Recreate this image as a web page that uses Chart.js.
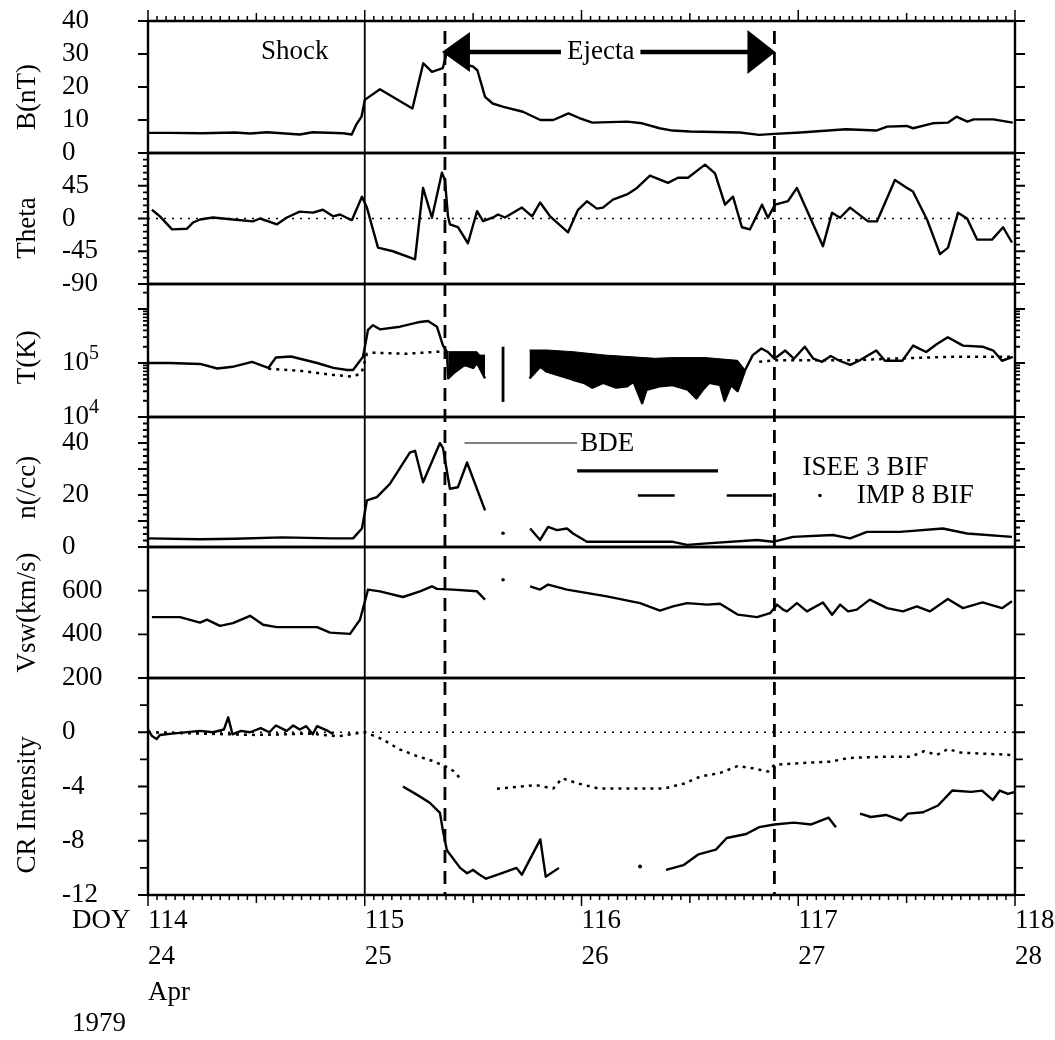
<!DOCTYPE html>
<html><head><meta charset="utf-8">
<script src="https://cdn.jsdelivr.net/npm/chart.js@4.4.1/dist/chart.umd.min.js"></script>
<style>html,body{margin:0;padding:0;background:#fff;}canvas{display:block;}</style>
</head><body>
<canvas id="c" width="1055" height="1040"></canvas>
<script>
// ---------- data (x = day of year 1979, fractional) ----------
const doyTicks = [114, 115, 116, 117, 118];
const dateTicks = ['24', '25', '26', '27', '28'];
const monthLabel = 'Apr';
const yearLabel = '1979';
const shockDoy = 115.0;
const ejectaStartDoy = 115.37;
const ejectaEndDoy = 116.89;

const bTickLabels = {0:'0', 10:'10', 20:'20', 30:'30', 40:'40'};
const thetaTickLabels = {45:'45', 0:'0', '-45':'-45', '-90':'-90'};
const tTickExponents = {10000:'4', 100000:'5'};
const nTickLabels = {0:'0', 20:'20', 40:'40'};
const vTickLabels = {200:'200', 400:'400', 600:'600'};
const crTickLabels = {0:'0', '-4':'-4', '-8':'-8', '-12':'-12'};

const bField = [[114.00,6.1],[114.10,6.1],[114.25,6.0],[114.40,6.2],[114.47,5.9],[114.55,6.3],[114.70,5.6],[114.76,6.3],[114.90,6.0],[114.94,5.6],[114.96,8.5],[114.985,11],[115.00,16.1],[115.07,19.3],[115.22,13.5],[115.27,27.2],[115.31,24.6],[115.36,25.7],[115.38,31.0],[115.40,29.2],[115.45,27.0],[115.50,26.2],[115.52,25.0],[115.555,17.0],[115.59,15.0],[115.64,14.0],[115.73,12.5],[115.81,10.0],[115.87,10.0],[115.94,12.0],[115.99,10.6],[116.05,9.2],[116.21,9.5],[116.28,9.0],[116.36,7.5],[116.42,6.8],[116.50,6.5],[116.73,6.2],[116.82,5.5],[116.89,5.8],[117.01,6.2],[117.22,7.2],[117.36,6.8],[117.41,8.0],[117.50,8.2],[117.53,7.5],[117.62,9.0],[117.69,9.2],[117.73,11.0],[117.78,9.5],[117.81,10.2],[117.90,10.2],[117.99,9.2]];

const theta = [[114.018,12],[114.055,3],[114.111,-15],[114.18,-14],[114.208,-5.5],[114.24,-1.4],[114.30,1.4],[114.392,-1.4],[114.484,-4],[114.517,0],[114.595,-8],[114.641,1.4],[114.70,9.5],[114.761,8],[114.807,12],[114.854,3],[114.886,5.5],[114.932,-1.4],[114.941,-2],[114.987,30],[115.01,15],[115.061,-40],[115.13,-45],[115.232,-56],[115.269,42],[115.31,1],[115.356,63],[115.37,53],[115.384,3],[115.393,-8],[115.43,-12],[115.476,-34],[115.518,10],[115.546,-3.6],[115.592,1.4],[115.615,5.5],[115.647,1.4],[115.725,15],[115.772,3],[115.809,22],[115.855,3],[115.938,-19],[115.984,12],[116.025,23.6],[116.071,13.6],[116.099,15],[116.145,26],[116.21,33],[116.256,42],[116.316,59],[116.399,49],[116.445,56],[116.491,56],[116.57,74],[116.616,62],[116.662,19],[116.699,30],[116.74,-12],[116.777,-15],[116.833,19],[116.86,1],[116.893,19],[116.953,24],[116.994,42],[117.114,-38],[117.156,8],[117.193,1],[117.239,15],[117.322,-4],[117.363,-4],[117.446,53],[117.502,42],[117.529,37],[117.594,-1.4],[117.654,-49],[117.691,-40],[117.737,8],[117.779,0],[117.825,-29],[117.894,-29],[117.945,-12],[117.986,-33]];

const tObs = [[114.00,1.0e5],[114.10,1.0e5],[114.24,9.6e4],[114.32,7.9e4],[114.39,8.5e4],[114.48,1.05e5],[114.555,8.1e4],[114.59,1.26e5],[114.66,1.32e5],[114.78,1.0e5],[114.855,8.1e4],[114.92,7.4e4],[114.946,7.4e4],[114.992,1.3e5],[115.015,4.1e5],[115.038,5.0e5],[115.07,4.2e5],[115.163,4.7e5],[115.255,5.75e5],[115.292,6.0e5],[115.333,4.7e5],[115.361,2.1e5],[115.379,1.6e5],[115.385,5.2e4],[115.41,6.5e4],[115.46,9.2e4],[115.50,8.1e4],[115.518,1.0e5],[115.555,5.2e4],[115.56,null],[115.76,5.2e4],[115.81,8.5e4],[115.84,6.9e4],[115.96,4.9e4],[116.01,4.3e4],[116.05,3.5e4],[116.10,4.3e4],[116.16,3.5e4],[116.21,3.7e4],[116.24,4.5e4],[116.28,1.8e4],[116.30,3.2e4],[116.36,3.7e4],[116.42,3.9e4],[116.49,3.2e4],[116.53,2.2e4],[116.56,3.2e4],[116.59,4.3e4],[116.64,3.9e4],[116.66,2.0e4],[116.69,3.9e4],[116.72,3.0e4],[116.74,5.0e4],[116.755,7.4e4],[116.79,1.4e5],[116.83,1.86e5],[116.86,1.6e5],[116.89,1.2e5],[116.94,1.7e5],[116.98,1.2e5],[117.03,2.0e5],[117.07,1.2e5],[117.11,1.05e5],[117.15,1.35e5],[117.19,1.1e5],[117.24,9.2e4],[117.28,1.1e5],[117.36,1.7e5],[117.40,1.1e5],[117.48,1.1e5],[117.53,2.1e5],[117.59,1.6e5],[117.64,2.25e5],[117.69,3.0e5],[117.76,2.1e5],[117.85,2.0e5],[117.90,1.7e5],[117.94,1.1e5],[117.99,1.3e5]];

const tExp = [[114.555,7.8e4],[114.70,7.2e4],[114.855,6.0e4],[114.946,5.6e4],[114.985,6.5e4],[115.01,1.48e5],[115.038,1.55e5],[115.19,1.48e5],[115.34,1.62e5],[115.379,1.62e5],[115.38,null],[116.82,1.05e5],[116.89,1.12e5],[117.00,1.12e5],[117.24,1.12e5],[117.47,1.22e5],[117.69,1.3e5],[117.99,1.3e5]];

const tEjectaTop = [[115.385,1.62e5],[115.518,1.62e5],[115.53,1.4e5],[115.555,1.4e5],[115.56,null],[115.76,1.74e5],[115.84,1.74e5],[115.96,1.62e5],[116.11,1.4e5],[116.34,1.22e5],[116.42,1.26e5],[116.57,1.26e5],[116.72,1.12e5],[116.755,7.4e4]];

const tBar = [[115.638,1.9e4],[115.638,2.0e5]];

const density = [[114.00,3.3],[114.24,3.0],[114.40,3.2],[114.62,3.7],[114.85,3.3],[114.946,3.3],[114.987,7.1],[115.01,17.9],[115.056,19.2],[115.116,24.3],[115.208,36.3],[115.232,37.0],[115.269,24.9],[115.347,40.0],[115.361,38.0],[115.393,22.4],[115.43,23.0],[115.472,32.5],[115.555,14.1],[115.56,null],[115.763,7.1],[115.809,2.7],[115.846,7.7],[115.887,6.5],[115.933,7.1],[115.961,5.2],[116.025,2.0],[116.117,2.0],[116.422,2.0],[116.487,0.8],[116.579,1.4],[116.81,2.7],[116.884,2.0],[116.976,3.9],[117.16,4.6],[117.239,3.3],[117.317,5.8],[117.469,5.8],[117.667,7.1],[117.779,5.2],[117.986,3.9]];
const densityDot = [[115.638,5.3]];

const bdeInterval = [[115.46, 115.98]];
const iseeBifIntervals = [[115.98, 116.63]];
const imp8BifIntervals = [[116.26, 116.43], [116.67, 116.88]];

const vsw = [[114.018,479],[114.148,479],[114.24,454],[114.272,467],[114.332,439],[114.392,451],[114.471,485],[114.531,444],[114.595,433],[114.78,433],[114.84,408],[114.932,402],[114.978,467],[115.015,605],[115.07,597],[115.176,571],[115.255,597],[115.31,620],[115.333,608],[115.407,605],[115.518,597],[115.555,559],[115.56,null],[115.763,620],[115.809,605],[115.846,628],[115.933,605],[116.117,574],[116.27,543],[116.362,509],[116.422,528],[116.487,543],[116.579,536],[116.639,540],[116.722,490],[116.81,479],[116.87,497],[116.902,536],[116.93,513],[116.948,505],[116.994,543],[117.04,505],[117.114,546],[117.156,490],[117.193,536],[117.23,505],[117.27,513],[117.33,559],[117.41,520],[117.483,505],[117.547,528],[117.607,505],[117.69,562],[117.76,520],[117.85,546],[117.94,520],[117.986,551]];
const vswDot = [[115.638,650]];

const crSolid = [[114.00,0.2],[114.02,-0.3],[114.04,-0.5],[114.055,-0.2],[114.11,-0.1],[114.24,0.1],[114.30,0.0],[114.35,0.2],[114.37,1.1],[114.39,-0.15],[114.43,0.1],[114.47,0.0],[114.52,0.3],[114.56,0.0],[114.59,0.5],[114.64,0.1],[114.67,0.5],[114.70,0.2],[114.73,0.45],[114.76,-0.15],[114.78,0.45],[114.83,0.1],[114.855,-0.15],[114.86,null],[115.176,-4.0],[115.24,-4.6],[115.30,-5.2],[115.347,-5.95],[115.36,-7.2],[115.379,-8.7],[115.44,-10.0],[115.472,-10.4],[115.50,-10.15],[115.53,-10.5],[115.56,-10.8],[115.63,-10.4],[115.70,-10.0],[115.725,-10.5],[115.81,-7.9],[115.835,-10.65],[115.896,-10.0],[115.90,null],[116.39,-10.15],[116.47,-9.8],[116.54,-9.0],[116.62,-8.65],[116.67,-7.8],[116.76,-7.5],[116.82,-7.0],[116.89,-6.8],[116.98,-6.66],[117.06,-6.8],[117.14,-6.3],[117.174,-7.0],[117.18,null],[117.285,-6.0],[117.335,-6.25],[117.405,-6.1],[117.474,-6.5],[117.506,-6.0],[117.576,-5.9],[117.645,-5.4],[117.71,-4.3],[117.797,-4.4],[117.848,-4.3],[117.898,-5.0],[117.93,-4.3],[117.967,-4.55],[118.0,-4.4]];
const crDotted = [[114.00,0.0],[114.25,-0.1],[114.50,-0.2],[114.75,-0.1],[114.88,-0.3],[114.95,-0.1],[115.00,0.0],[115.08,-0.5],[115.16,-1.26],[115.24,-1.75],[115.31,-2.1],[115.37,-2.5],[115.41,-2.86],[115.44,-3.4],[115.45,null],[115.61,-4.16],[115.79,-3.9],[115.87,-4.15],[115.91,-3.4],[115.99,-3.8],[116.08,-4.15],[116.25,-4.15],[116.38,-4.15],[116.47,-3.8],[116.55,-3.26],[116.64,-3.0],[116.72,-2.5],[116.79,-2.65],[116.86,-2.9],[116.89,-2.4],[116.98,-2.3],[117.15,-2.17],[117.23,-1.9],[117.40,-1.8],[117.52,-1.8],[117.58,-1.4],[117.64,-1.67],[117.69,-1.24],[117.75,-1.5],[117.98,-1.67]];
const crDot = [[116.27,-9.9]];

// ---------- styling / layout ----------
const SERIF = "'Liberation Serif','Times New Roman',serif";
const tickFont = {family: SERIF, size: 27};
const BDE_LEVEL = 40, ISEE_LEVEL = 29.3, IMP_LEVEL = 19.8;

function intervalsToLine(intervals, level) {
  const out = [];
  intervals.forEach(([a, b]) => { out.push([a, level], [b, level], [b, null]); });
  return out;
}

const panels = [
  {id:'yB',  title:'B(nT)',      frac:0.576, h:132, order:6, min:0,   max:40,  labels:bTickLabels,     major:[0,10,20,30,40], minor:[]},
  {id:'yTh', title:'Theta',      frac:0.573, h:131, order:5, min:-90, max:90,  labels:thetaTickLabels, major:[-90,-45,0,45,90], minor:[-81,-72,-63,-54,-36,-27,-18,-9,9,18,27,36,54,63,72,81]},
  {id:'yT',  title:'T(K)',       frac:0.55,  h:133, order:4, min:1e4, max:2.9e6, type:'logarithmic', labels:{}, major:[1e4,1e5,1e6], minor:[2e4,3e4,4e4,5e4,6e4,7e4,8e4,9e4,2e5,3e5,4e5,5e5,6e5,7e5,8e5,9e5,2e6]},
  {id:'yN',  title:'n(/cc)',     frac:0.54,  h:130, order:3, min:0,   max:50,  labels:nTickLabels,     major:[0,10,20,30,40,50], minor:[2.5,5,7.5,12.5,15,17.5,22.5,25,27.5,32.5,35,37.5,42.5,45,47.5]},
  {id:'yV',  title:'Vsw(km/s)',  frac:0.50,  h:131, order:2, min:200, max:800, labels:vTickLabels,     major:[200,400,600,800], minor:[]},
  {id:'yCR', title:'CR Intensity', frac:0.585, h:217, order:1, min:-12, max:4, labels:crTickLabels,  major:[-12,-8,-4,0,4], minor:[-10,-6,-2,2]}
];

const scales = {
  x: {
    type:'linear', position:'bottom', min:114, max:118, bounds:'data',
    grid:{display:false, drawTicks:false, tickLength:0}, border:{display:false},
    ticks:{autoSkip:false, align:'start', padding:8, color:'#000', maxRotation:0,
      font:{family:SERIF, size:27, lineHeight:36/27},
      callback:(v) => {
        const i = doyTicks.indexOf(v);
        if (i < 0) return '';
        return i === 0 ? [String(v), dateTicks[i], monthLabel] : [String(v), dateTicks[i]];
      }},
    afterBuildTicks: s => { s.ticks = doyTicks.map(v => ({value:v})); },
    afterFit: s => { s.height = 145; s.paddingRight = 0; s.paddingLeft = 0; }
  }
};
panels.forEach(p => {
  scales[p.id] = {
    type: p.type || 'linear', position:'left', stack:'panels', stackWeight:p.h, weight:p.order,
    min:p.min, max:p.max, offset:false, bounds:'data',
    grid:{display:false, drawTicks:false, tickLength:0}, border:{display:false},
    ticks:{autoSkip:false, crossAlign:'far', padding:0, color:'#000', font:tickFont,
      callback:(v) => (p.labels[v] !== undefined ? p.labels[v] : '')},
    afterBuildTicks: s => { s.ticks = p.major.map(v => ({value:v})); },
    afterFit: s => { s.width = 86; }
  };
});

const line = (data, yAxisID, extra) => Object.assign({
  data, yAxisID, xAxisID:'x', borderColor:'#000', backgroundColor:'#000', borderWidth:2.4,
  pointRadius:0, tension:0, spanGaps:false, fill:false, borderJoinStyle:'round'
}, extra || {});
const DOTTED = {borderDash:[3,5], borderWidth:2.5};

const datasets = [
  line(bField, 'yB'),
  line(theta, 'yTh'),
  line(tExp, 'yT', DOTTED),
  line(tObs, 'yT'),
  line(tEjectaTop, 'yT', {borderWidth:1, fill:{target:3, above:'#000', below:'#000'}}),
  line(tBar, 'yT', {borderWidth:2.8}),
  line(density, 'yN'),
  line(densityDot, 'yN', {pointRadius:1.8, borderWidth:0}),
  line(intervalsToLine(bdeInterval, BDE_LEVEL), 'yN', {borderWidth:1.2}),
  line(intervalsToLine(iseeBifIntervals, ISEE_LEVEL), 'yN', {borderWidth:3.2}),
  line(intervalsToLine(imp8BifIntervals, IMP_LEVEL), 'yN', {borderWidth:2.6}),
  line(vsw, 'yV'),
  line(vswDot, 'yV', {pointRadius:1.8, borderWidth:0}),
  line(crDotted, 'yCR', DOTTED),
  line(crSolid, 'yCR'),
  line(crDot, 'yCR', {pointRadius:2, borderWidth:0})
];

const decor = {
  id:'decor',
  beforeDatasetsDraw(chart) {
    const {ctx, chartArea:a, scales:s} = chart;
    ctx.save();
    ctx.strokeStyle = '#000'; ctx.lineWidth = 1.5; ctx.setLineDash([2,6]);
    ['yTh','yCR'].forEach(id => {
      const y = s[id].getPixelForValue(0);
      ctx.beginPath(); ctx.moveTo(a.left, y); ctx.lineTo(a.right, y); ctx.stroke();
    });
    ctx.restore();
  },
  afterDraw(chart) {
    const {ctx, chartArea:a, scales:s} = chart;
    const px = v => s.x.getPixelForValue(v);
    ctx.save();
    ctx.strokeStyle = '#000'; ctx.fillStyle = '#000';
    // ticks on y axes (both sides, outward)
    ctx.lineWidth = 1.8;
    panels.forEach(p => {
      const sc = s[p.id];
      const draw = (v, len) => {
        const y = sc.getPixelForValue(v);
        ctx.beginPath();
        ctx.moveTo(a.left - len, y); ctx.lineTo(a.left, y);
        ctx.moveTo(a.right, y); ctx.lineTo(a.right + len, y);
        ctx.stroke();
      };
      p.major.forEach(v => draw(v, 10));
      p.minor.forEach(v => draw(v, p.id === 'yCR' ? 8 : 5));
    });
    // ticks on x (top and bottom, hourly)
    ctx.lineWidth = 1.5;
    for (let h = 0; h <= 96; h++) {
      const x = px(114 + h / 24);
      const len = h % 24 === 0 ? 11 : (h % 12 === 0 ? 8 : 5);
      ctx.beginPath();
      ctx.moveTo(x, a.top); ctx.lineTo(x, a.top - len);
      ctx.moveTo(x, a.bottom); ctx.lineTo(x, a.bottom + len);
      ctx.stroke();
    }
    // panel frames
    ctx.lineWidth = 2.7;
    panels.forEach(p => {
      const sc = s[p.id];
      [sc.top, sc.bottom].forEach(y => {
        ctx.beginPath(); ctx.moveTo(a.left - 1, y); ctx.lineTo(a.right + 1, y); ctx.stroke();
      });
    });
    ctx.lineWidth = 2.4;
    ctx.beginPath();
    ctx.moveTo(a.left, a.top); ctx.lineTo(a.left, a.bottom);
    ctx.moveTo(a.right, a.top); ctx.lineTo(a.right, a.bottom);
    ctx.stroke();
    // event lines
    ctx.lineWidth = 1.8;
    ctx.beginPath(); ctx.moveTo(px(shockDoy), a.top); ctx.lineTo(px(shockDoy), a.bottom); ctx.stroke();
    ctx.lineWidth = 2.8; ctx.setLineDash([13, 8]);
    [ejectaStartDoy, ejectaEndDoy].forEach(d => {
      ctx.beginPath(); ctx.moveTo(px(d), a.top + 10); ctx.lineTo(px(d), a.bottom); ctx.stroke();
    });
    ctx.setLineDash([]);
    // Shock + Ejecta arrow
    const ay = a.top + 31;
    ctx.font = '27px ' + SERIF; ctx.textAlign = 'center'; ctx.textBaseline = 'middle';
    ctx.fillText('Shock', px(shockDoy) - 70, ay);
    const x1 = px(ejectaStartDoy) - 3, x2 = px(ejectaEndDoy) + 1;
    const tx = (x1 + x2) / 2 - 8;
    const tw = ctx.measureText('Ejecta').width;
    ctx.fillText('Ejecta', tx, ay);
    ctx.lineWidth = 4.5;
    ctx.beginPath();
    ctx.moveTo(x1 + 20, ay); ctx.lineTo(tx - tw / 2 - 6, ay);
    ctx.moveTo(tx + tw / 2 + 6, ay); ctx.lineTo(x2 - 20, ay);
    ctx.stroke();
    ctx.beginPath(); ctx.moveTo(x1, ay); ctx.lineTo(x1 + 28, ay - 20); ctx.lineTo(x1 + 28, ay + 20); ctx.closePath(); ctx.fill();
    ctx.beginPath(); ctx.moveTo(x2, ay); ctx.lineTo(x2 - 28, ay - 22); ctx.lineTo(x2 - 28, ay + 22); ctx.closePath(); ctx.fill();
    // density panel labels
    const yN = s.yN;
    ctx.textAlign = 'left';
    ctx.fillText('BDE', px(bdeInterval[0][1]) + 3, yN.getPixelForValue(BDE_LEVEL) + 1);
    ctx.fillText('ISEE 3 BIF', px(117.02), yN.getPixelForValue(30.5));
    ctx.fillText('IMP 8 BIF', px(117.27), yN.getPixelForValue(IMP_LEVEL));
    ctx.beginPath(); ctx.arc(px(117.10), yN.getPixelForValue(IMP_LEVEL), 1.8, 0, Math.PI * 2); ctx.fill();
    // temperature tick labels with superscript exponents
    Object.keys(tTickExponents).forEach(k => {
      const y = s.yT.getPixelForValue(Number(k));
      ctx.font = '27px ' + SERIF; ctx.textAlign = 'left'; ctx.textBaseline = 'middle';
      ctx.fillText('10', 62, y);
      const w = ctx.measureText('10').width;
      ctx.font = '20px ' + SERIF;
      ctx.fillText(tTickExponents[k], 62 + w, y - 9);
    });
    ctx.font = '27px ' + SERIF;
    // axis titles
    panels.forEach(p => {
      const sc = s[p.id];
      ctx.save();
      ctx.translate(28, sc.top + p.frac * sc.height);
      ctx.rotate(-Math.PI / 2);
      ctx.textAlign = 'center'; ctx.textBaseline = 'middle';
      ctx.fillText(p.title, 0, 0);
      ctx.restore();
    });
    // DOY / year
    ctx.textAlign = 'left'; ctx.textBaseline = 'middle';
    ctx.fillText('DOY', 72, a.bottom + 26);
    ctx.fillText(yearLabel, 72, a.bottom + 129);
    ctx.restore();
  }
};

new Chart(document.getElementById('c'), {
  type:'line',
  data:{datasets},
  options:{
    responsive:false, animation:false, devicePixelRatio:1,
    layout:{padding:{left:62, top:21, right:40, bottom:0}},
    plugins:{legend:{display:false}, tooltip:{enabled:false}},
    scales
  },
  plugins:[decor]
});
</script>
</body></html>
